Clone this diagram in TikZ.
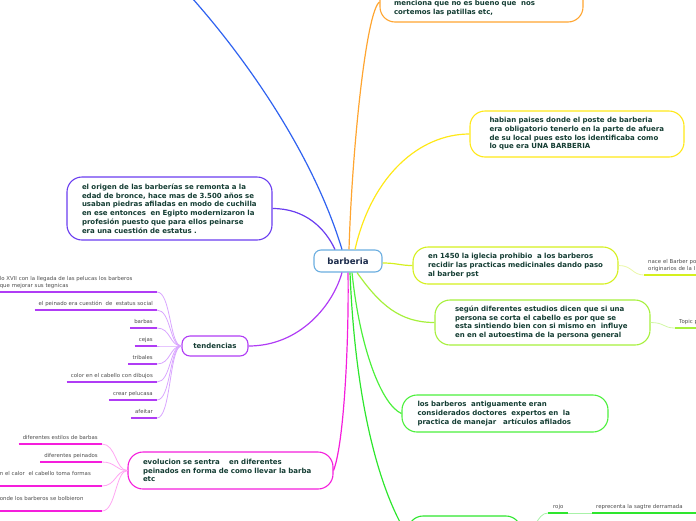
\documentclass[tikz,border=0pt]{standalone}
\usepackage{fontspec}
\setmainfont{DejaVu Sans}
\usetikzlibrary{calc}
\definecolor{txt}{HTML}{143D33}
\definecolor{leaftxt}{HTML}{4D4D4D}
\definecolor{ctxtc}{HTML}{1B2B4B}
\definecolor{ccenter}{HTML}{6BAEE0}
\definecolor{cblue}{HTML}{2F62F0}
\definecolor{corange}{HTML}{FFA530}
\definecolor{cyellow}{HTML}{FFE818}
\definecolor{cviolet}{HTML}{6A3DF0}
\definecolor{cpurple}{HTML}{B03CF5}
\definecolor{cpurplel}{HTML}{D9A6FF}
\definecolor{cmag}{HTML}{F51EDC}
\definecolor{cmagl}{HTML}{FFA6F2}
\definecolor{cyg}{HTML}{D5F01E}
\definecolor{cygl}{HTML}{EAF7A6}
\definecolor{clg}{HTML}{A6F03C}
\definecolor{clgl}{HTML}{D2F7A6}
\definecolor{cgreen}{HTML}{4CF03C}
\definecolor{cbg}{HTML}{2EE62E}
\definecolor{cbgl}{HTML}{A8F2A8}
\newcommand\lne[1]{\mbox{#1}}
\tikzset{
  topic/.style={draw, fill=white, line width=1.1pt, rounded corners=15pt,
    font=\bfseries\fontsize{7}{8.7}\selectfont, text=txt, align=left,
    inner sep=0pt, text width=175pt},
  centerbox/.style={draw=ccenter, fill=white, line width=1.1pt, rounded corners=7pt,
    font=\bfseries\fontsize{8.6}{10}\selectfont, text=ctxtc, inner sep=0pt,
    minimum width=68pt, minimum height=22pt},
  leafs/.style={font=\fontsize{5.4}{7}\selectfont, text=leaftxt, inner xsep=4pt,
    inner ysep=3pt, text height=4.2pt, text depth=1.5pt},
  leafm/.style={font=\fontsize{5.4}{7}\selectfont, text=leaftxt, inner xsep=4pt,
    inner ysep=3pt, align=left},
  ul/.style={line width=1.6pt},
  conn/.style={line width=1.2pt},
  twig/.style={line width=0.8pt}
}
\begin{document}
\begin{tikzpicture}[x=1pt,y=-1pt]
\useasboundingbox (0,0) rectangle (696,520);
\clip (0,0) rectangle (696,520);

% center
\node[centerbox] (c) at (348,261) {barberia};

% main topics
\node[topic, draw=corange, minimum width=203pt, minimum height=40pt] (n1) at (481.5,2)
  {\mbox{}\\\mbox{}\\\lne{menciona que no es bueno que~ nos}\\\lne{cortemos las patillas etc,}};
\node[topic, draw=cyellow, minimum width=214pt, minimum height=46pt] (n2) at (577,134)
  {\lne{habian paises donde el poste de barberia}\\\lne{era obligatorio tenerlo en la parte de afuera}\\\lne{de su local pues esto los identificaba como}\\\lne{lo que era UNA BARBERIA}};
\node[topic, draw=cviolet, minimum width=205pt, minimum height=63pt] (n3) at (169.5,208.5)
  {\lne{el origen de las barberías se remonta a la}\\\lne{edad de bronce, hace mas de 3.500 años se}\\\lne{usaban piedras afiladas en modo de cuchilla}\\\lne{en ese entonces~ en Egipto modernizaron la}\\\lne{profesión puesto que para ellos peinarse}\\\lne{era una cuestión de estatus .}};
\node[draw=cpurple, fill=white, line width=1.1pt, rounded corners=8pt, minimum width=66pt,
  minimum height=20pt, font=\bfseries\fontsize{7}{8.7}\selectfont, text=txt, inner sep=0pt]
  (n4) at (215,346) {tendencias};
\node[topic, draw=cmag, minimum width=205pt, minimum height=37pt] (n5) at (230.5,470.5)
  {\lne{evolucion se sentra~~~ en diferentes}\\\lne{peinados en forma de como llevar la barba}\\\lne{etc}};
\node[topic, draw=cyg, minimum width=205pt, minimum height=37pt] (n6) at (515.5,265.5)
  {\lne{en 1450 la iglecia prohibio~ a los barberos}\\\lne{recidir las practicas medicinales dando paso}\\\lne{al barber pst}};
\node[topic, draw=clg, minimum width=215pt, minimum height=45pt] (n7) at (542.5,322.5)
  {\lne{según diferentes estudios dicen que si una}\\\lne{persona se corta el cabello es por que se}\\\lne{esta sintiendo bien con si mismo en~ influye}\\\lne{en en el autoestima de la persona general}};
\node[topic, draw=cgreen, minimum width=206pt, minimum height=37pt] (n8) at (505,413.5)
  {\lne{los barberos~ antiguamente eran}\\\lne{considerados doctores~ expertos en~ la}\\\lne{practica de manejar~~ artículos afilados}};
\node[topic, draw=cbg, minimum width=113pt, minimum height=38pt, text width=100pt] (n9) at (464.5,535) {};

% main connectors
\coordinate (blueend) at (183,-12);
\draw[conn, cblue] ($(c.north)+(-6,0)$) .. controls (312,150) and (240,50) .. (blueend);
\draw[conn, corange] ($(c.north)+(1,0)$) .. controls (352,150) and (366,12) .. (n1.west);
\draw[conn, cyellow] ($(c.north)+(7,0)$) .. controls (372,175) and (420,134) .. (n2.west);
\draw[conn, cviolet] (n3.east) .. controls (305,208.5) and (325,228) .. ($(c.north)+(-13,0)$);
\draw[conn, cpurple] (n4.east) .. controls (300,346) and (333,305) .. ($(c.south)+(-6,0)$);
\draw[conn, cmag] (n5.east) .. controls (345,440) and (349,330) .. (c.south);
\draw[conn, cyg] ($(c.east)+(0,2)$) .. controls (397,263) and (400,265.5) .. (n6.west);
\draw[conn, clg] ($(c.south)+(9,0)$) .. controls (380,305) and (400,322.5) .. (n7.west);
\draw[conn, cgreen] ($(c.south)+(4,0)$) .. controls (360,350) and (382,405) .. (n8.west);
\draw[conn, cbg] ($(c.south)+(2,0)$) .. controls (356,420) and (385,500) .. (n9.west);

% tendencias leaves
\node[leafm, text width=153pt, anchor=south east] (t1) at (157,292)
  {\lne{lo XVII con la llegada de las pelucas los barberos}\\\lne{que mejorar sus tegnicas}};
\node[leafs, anchor=south east] (t2) at (157,310) {el peinado era cuestión~ de~ estatus social};
\node[leafs, anchor=south east] (t3) at (157,328) {barbas};
\node[leafs, anchor=south east] (t4) at (157,346) {cejas};
\node[leafs, anchor=south east] (t5) at (157,364) {tribales};
\node[leafs, anchor=south east] (t6) at (157,382) {color en el cabello con dibujos};
\node[leafs, anchor=south east] (t7) at (157,400) {crear pelucasa};
\node[leafs, anchor=south east] (t8) at (157,418) {afeitar};
\foreach \t in {t1,t2,t3,t4,t5,t6,t7,t8}{
  \draw[twig, cpurplel] (\t.south east) .. controls +(14,0) and +(-12,0) .. (n4.west);
  \draw[ul, cpurple] (\t.south west) -- (\t.south east);
}

% evolucion leaves
\node[leafs, anchor=south east] (e1) at (102,444) {diferentes estilos de barbas};
\node[leafs, anchor=south east] (e2) at (102,462) {diferentes peinados};
\node[leafm, text width=98pt, anchor=south east] (e3) at (102,486)
  {\lne{n el calor~ el cabello toma formas}\\\mbox{}};
\node[leafm, text width=98pt, anchor=south east] (e4) at (102,511)
  {\lne{onde los barberos se bolbieron}\\\mbox{}};
\foreach \t in {e1,e2,e3,e4}{
  \draw[twig, cmagl] (\t.south east) .. controls +(14,0) and +(-12,0) .. (n5.west);
  \draw[ul, cmag] (\t.south west) -- (\t.south east);
}

% right leaves
\node[leafm, text width=60pt, anchor=south west] (r1) at (644,275)
  {\lne{nace el Barber po}\\\lne{originarios de la I}};
\draw[twig, cygl] (n6.east) .. controls +(14,0) and +(-12,0) .. (r1.south west);
\draw[ul, cyg] (r1.south west) -- (r1.south east);
\node[leafs, text width=30pt, anchor=south west] (r2) at (675,328) {Topic p};
\draw[twig, clgl] (n7.east) .. controls +(14,0) and +(-12,0) .. (r2.south west);
\draw[ul, clg] (r2.south west) -- (r2.south east);

% bottom leaves
\node[leafs, minimum width=20pt, anchor=south west] (b1) at (548,513) {rojo};
\node[leafs, text width=100pt, anchor=south west] (b2) at (592,513) {reprecenta la sagtre derramada};
\draw[twig, cbgl] (n9.east) .. controls +(14,0) and +(-12,0) .. (b1.south west);
\draw[twig, cbgl] (b1.south east) -- (b2.south west);
\draw[ul, cbg] (b1.south west) -- (b1.south east);
\draw[ul, cbg] (b2.south west) -- (b2.south east);
\end{tikzpicture}
\end{document}
